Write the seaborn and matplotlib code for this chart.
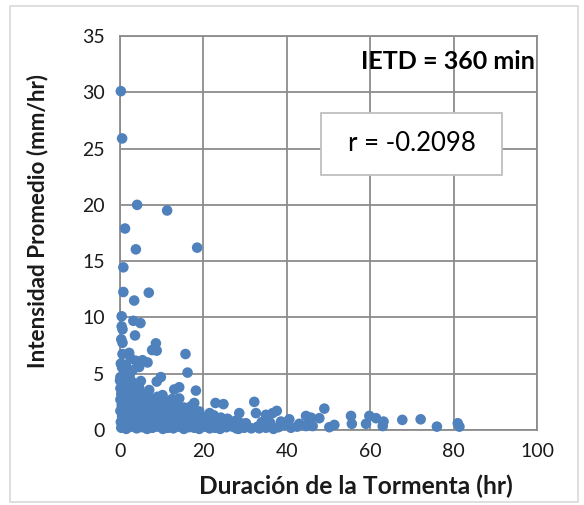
'''Scatter: intensidad promedio vs duracion de la tormenta (IETD = 360 min).'''

import pandas as pd
import matplotlib.pyplot as plt
import seaborn as sns
from matplotlib.patches import Rectangle

# puntos aislados (hr, mm/hr)
dur_aislados = [0.2, 0.5, 4.1, 11.3, 1.2, 3.8, 18.5, 0.8, 0.8, 6.9, 3.4, 0.4, 3.2, 4.9,
                0.4, 0.6, 3.6, 0.3, 0.6, 8.6, 7.7, 8.8, 15.7, 0.6, 2.2, 2.6, 3.8, 5.4,
                6.6, 0.5, 1.0, 16.2, 4.6, 3.0, 9.8, 8.8, 5.0, 0.0, 14.2, 13.0, 18.2,
                7.0, 14.2, 10.2, 9.0, 32.2, 22.9, 24.8, 17.8, 49.0, 37.6, 55.4, 59.8,
                61.4, 63.2, 67.7, 72.1, 76.0, 81.0, 81.4, 50.2, 51.4, 55.6, 59.0, 63.0,
                47.8, 44.6, 45.8, 46.2, 44.6, 40.6, 38.6, 39.4, 43.0, 33.4, 35.0, 36.6,
                32.6, 28.6, 30.2, 27.9, 0.2, 1.4]
int_aislados = [30.1, 25.9, 20.0, 19.5, 17.9, 16.05, 16.2, 14.45, 12.26, 12.2, 11.5, 10.1,
                9.7, 9.5, 9.2, 8.95, 8.4, 8.05, 7.75, 7.7, 7.1, 7.05, 6.75, 6.75, 6.85,
                6.35, 6.15, 6.2, 6.0, 5.55, 5.3, 5.1, 5.6, 5.3, 4.7, 4.3, 4.35, 4.4,
                3.8, 3.6, 3.5, 3.55, 2.8, 3.1, 2.95, 2.5, 2.4, 2.3, 2.4, 1.9, 1.7, 1.25,
                1.25, 1.05, 0.75, 0.9, 0.95, 0.3, 0.6, 0.3, 0.25, 0.45, 0.55, 0.55, 0.35,
                1.05, 1.25, 1.1, 0.35, 0.35, 0.95, 0.75, 0.45, 0.55, 0.15, 1.35, 1.5,
                1.5, 1.5, 0.6, 0.15, 5.9, 5.8]

# nucleo denso cerca del origen (hr, mm/hr)
dur_nucleo = [0.3, 1.5, 2.8, 4.0, 5.3, 6.5, 7.8, 9.0, 10.3, 11.5, 12.8, 14.0, 15.3, 16.5,
              17.8, 19.0, 20.3, 21.5, 22.8, 24.0, 25.5, 27.0, 28.4, 29.8, 31.5, 33.0,
              35.0, 36.8, 38.0, 41.0, 42.5,
              0.2, 1.2, 2.4, 3.6, 4.8, 6.0, 7.2, 8.4, 9.6, 10.8, 12.0, 13.2, 14.4, 15.6,
              16.8, 18.0, 19.2, 20.4, 21.8, 23.2, 24.6, 26.0, 27.6, 29.0, 34.0, 36.0, 45.5,
              0.5, 1.8, 3.0, 4.3, 5.6, 6.8, 8.0, 9.3, 10.5, 11.8, 13.0, 14.3, 15.5, 16.9,
              18.2, 19.6, 21.0, 22.5, 24.2, 25.8,
              0.1, 1.0, 2.2, 3.4, 4.6, 5.9, 7.1, 8.3, 9.6, 10.9, 12.2, 13.5, 14.8, 16.1,
              17.5, 19.0, 21.5,
              0.4, 1.5, 2.7, 3.9, 5.2, 6.4, 7.7, 9.0, 10.5, 12.0, 13.6, 15.3, 17.0,
              0.1, 1.0, 2.1, 3.3, 4.5, 5.8, 7.2, 8.8, 11.0, 12.5,
              0.3, 1.3, 2.5, 3.7, 5.0, 6.3,
              0.1, 1.0, 2.2, 3.4, 4.6,
              0.4, 1.6, 2.8,
              0.1, 1.1, 2.3,
              6.2, 8.9, 11.4, 14.1, 4.1, 7.5, 10.1, 12.9, 2.0, 5.1]
int_nucleo = [0.2, 0.1, 0.3, 0.15, 0.25, 0.1, 0.2, 0.3, 0.1, 0.2, 0.15, 0.3, 0.1, 0.25,
              0.2, 0.1, 0.3, 0.15, 0.2, 0.1, 0.25, 0.3, 0.1, 0.2, 0.15, 0.3,
              0.2, 0.1, 0.25, 0.2, 0.3,
              0.7, 0.6, 0.8, 0.65, 0.75, 0.6, 0.8, 0.7, 0.65, 0.75, 0.6, 0.8, 0.7, 0.6,
              0.75, 0.65, 0.8, 0.7, 0.6, 0.75, 0.65, 0.7, 0.8, 0.6, 0.7, 0.65, 0.6,
              1.2, 1.1, 1.3, 1.15, 1.25, 1.1, 1.3, 1.2, 1.15, 1.25, 1.1, 1.3, 1.2, 1.1,
              1.25, 1.15, 1.2, 1.3, 1.1, 1.0,
              1.7, 1.6, 1.8, 1.65, 1.75, 1.6, 1.8, 1.7, 1.65, 1.75, 1.6, 1.8, 1.7, 1.6,
              1.75, 1.65, 1.5,
              2.2, 2.1, 2.3, 2.15, 2.25, 2.1, 2.3, 2.2, 2.15, 2.1, 2.25, 2.0, 2.1,
              2.7, 2.6, 2.8, 2.65, 2.75, 2.6, 2.8, 2.7, 2.6, 2.75,
              3.2, 3.1, 3.3, 3.15, 3.25, 3.1,
              3.7, 3.6, 3.8, 3.65, 3.75,
              4.2, 4.1, 4.3,
              4.7, 4.6, 4.8,
              1.45, 1.45, 1.4, 1.45, 1.95, 1.9, 1.95, 1.9, 2.45, 2.45]

x_ticks = [0, 20, 40, 60, 80, 100]
y_ticks = [0, 5, 10, 15, 20, 25, 30, 35]
r_texto = "r = -0.2098"
ietd_texto = "IETD = 360 min"

df = pd.DataFrame({
    "duracion": dur_aislados + dur_nucleo,
    "intensidad": int_aislados + int_nucleo,
})

#set style
sns.set_theme(style="whitegrid")
plt.rcParams['font.family'] = ['Lato', 'DejaVu Sans']
gris = '#8c8c8c'

fig = plt.figure(figsize=(5.84, 5.05), dpi=100)
ax = fig.add_axes([0.2055, 0.1485, 0.714, 0.7802])

# borde del area del grafico
fig.patches.append(Rectangle((10 / 584, 3 / 505), 568 / 584, 496 / 505,
                             transform=fig.transFigure, fill=False,
                             edgecolor='#d9d9d9', linewidth=1.2))

sns.scatterplot(data=df, x="duracion", y="intensidad", ax=ax, color='#4f81bd',
                s=58, edgecolor='none', linewidth=0, alpha=1, zorder=3)
for coll in ax.collections:
    coll.set_clip_on(False)

ax.set_xlim(0, 100)
ax.set_ylim(0, 35)
ax.set_xticks(x_ticks)
ax.set_yticks(y_ticks)
ax.grid(True, color=gris, linewidth=1.3)
for s in ax.spines.values():
    s.set_color(gris)
    s.set_linewidth(1.3)
ax.tick_params(axis='both', colors=gris, length=5, width=1.3, direction='out',
               labelcolor='#1a1a1a', labelsize=14, pad=6)
ax.tick_params(axis='x', pad=4)

ax.set_xlabel("Duración de la Tormenta (hr)", fontsize=17.7, fontweight='bold',
              color='#1a1a1a')
ax.set_ylabel("Intensidad Promedio (mm/hr)", fontsize=16.2, fontweight='bold',
              color='#1a1a1a')
ax.xaxis.set_label_coords(0.565, -0.112)
ax.yaxis.set_label_coords(-0.172, 0.53)

ax.text(0.995, 0.935, ietd_texto, transform=ax.transAxes, ha='right', va='center',
        fontsize=18, fontweight='bold', color='black')

# recuadro del coeficiente de correlacion
ax.add_patch(Rectangle((0.482, 0.647), 0.434, 0.158, transform=ax.transAxes,
                       facecolor='white', edgecolor='#bfbfbf', linewidth=1.3, zorder=4))
ax.text(0.699, 0.726, r_texto, transform=ax.transAxes, ha='center', va='center',
        fontsize=18.5, color='black', zorder=5)

plt.savefig('out.png', dpi=100)
plt.close()
